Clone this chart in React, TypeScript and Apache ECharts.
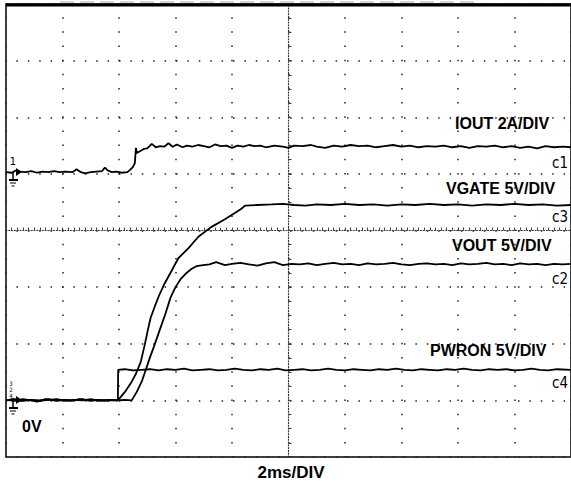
import React, { useEffect, useRef } from "react";
import * as echarts from "echarts";

// time in ms (2 ms/div), vertical position in screen divisions (0..8)
const iout: number[][] = [
  [0.0, 5.03], [0.2, 5.02], [0.35, 5.06], [0.5, 5.04], [0.7, 5.03], [0.9, 5.05], [1.1, 5.02], [1.3, 5.04],
  [1.5, 5.03], [1.7, 5.05], [1.9, 5.03], [2.1, 5.04], [2.35, 5.03], [2.5, 5.08], [2.65, 5.03], [2.8, 5.01],
  [3.0, 5.03], [3.2, 5.04], [3.4, 5.05], [3.5, 5.11], [3.6, 5.06], [3.75, 5.03], [3.9, 5.04], [4.1, 5.02],
  [4.3, 5.03], [4.39, 5.07], [4.49, 5.12], [4.56, 5.19], [4.6, 5.46], [4.63, 5.37], [4.74, 5.40], [4.88, 5.44],
  [5.0, 5.45], [5.16, 5.53], [5.3, 5.47], [5.45, 5.49], [5.6, 5.48], [5.75, 5.54], [5.9, 5.48], [6.05, 5.52],
  [6.25, 5.47], [6.4, 5.50], [6.6, 5.48], [6.8, 5.51], [7.0, 5.49], [7.2, 5.47], [7.4, 5.52], [7.6, 5.49],
  [7.8, 5.50], [8.0, 5.46], [8.2, 5.50], [8.4, 5.48], [8.6, 5.51], [8.8, 5.49], [9.0, 5.50], [9.2, 5.47],
  [9.5, 5.50], [9.8, 5.48], [10.0, 5.46], [10.2, 5.50], [10.5, 5.49], [10.8, 5.51], [11.0, 5.48], [11.3, 5.46],
  [11.6, 5.50], [11.9, 5.48], [12.2, 5.51], [12.5, 5.49], [12.8, 5.50], [13.1, 5.47], [13.4, 5.49], [13.7, 5.51],
  [14.0, 5.48], [14.3, 5.50], [14.6, 5.47], [14.9, 5.49], [15.2, 5.48], [15.5, 5.50], [15.8, 5.47], [16.1, 5.49],
  [16.4, 5.46], [16.7, 5.49], [17.0, 5.48], [17.3, 5.50], [17.6, 5.47], [17.9, 5.49], [18.2, 5.46], [18.5, 5.48],
  [18.8, 5.45], [19.1, 5.49], [19.4, 5.47], [19.7, 5.48], [20.0, 5.47],
];

const vgate: number[][] = [
  [0.0, 1.0], [0.25, 1.02], [0.5, 0.99], [0.8, 1.01], [1.1, 0.98], [1.4, 1.02], [1.7, 1.0], [2.0, 1.01],
  [2.3, 0.99], [2.6, 1.02], [2.9, 1.0], [3.2, 1.01], [3.5, 0.99], [3.8, 1.01], [3.96, 1.0],
  [4.21, 1.15], [4.45, 1.33], [4.6, 1.47], [4.77, 1.68], [4.91, 1.98], [5.02, 2.24], [5.12, 2.46], [5.26, 2.65],
  [5.4, 2.83], [5.61, 3.06], [5.82, 3.25], [6.1, 3.51], [6.46, 3.69], [6.81, 3.89], [7.26, 4.06], [7.75, 4.2],
  [8.1, 4.31], [8.32, 4.38], [8.46, 4.44], [8.9, 4.45], [9.4, 4.46], [9.8, 4.47], [10.2, 4.45], [10.6, 4.44],
  [11.0, 4.46], [11.5, 4.45], [12.0, 4.47], [12.5, 4.45], [13.0, 4.46], [13.5, 4.44], [14.0, 4.46], [14.5, 4.45],
  [15.0, 4.47], [15.5, 4.45], [16.0, 4.46], [16.5, 4.44], [17.0, 4.46], [17.5, 4.45], [18.0, 4.47], [18.5, 4.45],
  [19.0, 4.46], [19.5, 4.44], [20.0, 4.45],
];

const vout: number[][] = [
  [0.0, 1.01], [0.3, 0.99], [0.6, 1.02], [0.9, 1.0], [1.2, 0.99], [1.5, 1.01], [1.8, 1.02], [2.1, 0.99],
  [2.4, 1.01], [2.7, 1.0], [3.0, 1.02], [3.3, 0.99], [3.6, 1.01], [3.9, 1.0], [4.2, 1.01], [4.45, 1.0],
  [4.63, 1.15], [4.81, 1.34], [4.95, 1.54], [5.09, 1.75], [5.23, 1.94], [5.44, 2.24], [5.65, 2.54], [5.82, 2.81],
  [6.0, 3.0], [6.18, 3.14], [6.39, 3.25], [6.56, 3.32], [6.74, 3.37], [6.98, 3.39], [7.2, 3.40], [7.44, 3.44],
  [7.75, 3.39], [8.0, 3.41], [8.3, 3.43], [8.6, 3.40], [8.9, 3.38], [9.2, 3.42], [9.5, 3.44], [9.8, 3.39],
  [10.1, 3.41], [10.4, 3.40], [10.7, 3.42], [11.0, 3.39], [11.3, 3.41], [11.6, 3.43], [11.9, 3.40], [12.2, 3.41],
  [12.5, 3.39], [12.8, 3.42], [13.1, 3.40], [13.4, 3.41], [13.7, 3.43], [14.0, 3.40], [14.3, 3.39], [14.6, 3.41],
  [14.9, 3.42], [15.2, 3.40], [15.5, 3.41], [15.8, 3.39], [16.1, 3.42], [16.4, 3.40], [16.7, 3.41], [17.0, 3.43],
  [17.3, 3.40], [17.6, 3.41], [17.9, 3.39], [18.2, 3.42], [18.5, 3.40], [18.8, 3.41], [19.1, 3.39], [19.4, 3.41],
  [19.7, 3.40], [20.0, 3.41],
];

const pwron: number[][] = [
  [0.0, 1.0], [0.3, 1.02], [0.6, 0.99], [0.9, 1.01], [1.2, 1.0], [1.5, 1.02], [1.8, 0.99], [2.1, 1.01],
  [2.4, 1.0], [2.7, 1.02], [3.0, 0.99], [3.3, 1.01], [3.6, 1.0], [3.96, 1.0], [3.97, 1.54], [4.2, 1.55],
  [4.5, 1.53], [4.8, 1.54], [5.1, 1.55], [5.4, 1.53], [5.7, 1.55], [6.0, 1.54], [6.3, 1.56], [6.6, 1.53],
  [6.9, 1.54], [7.2, 1.55], [7.5, 1.53], [7.8, 1.54], [8.1, 1.56], [8.4, 1.54], [8.7, 1.53], [9.0, 1.55],
  [9.3, 1.54], [9.6, 1.56], [9.9, 1.53], [10.2, 1.54], [10.5, 1.55], [10.8, 1.53], [11.1, 1.54], [11.4, 1.56],
  [11.7, 1.54], [12.0, 1.53], [12.3, 1.55], [12.6, 1.54], [12.9, 1.53], [13.2, 1.55], [13.5, 1.54], [13.8, 1.56],
  [14.1, 1.54], [14.4, 1.53], [14.7, 1.55], [15.0, 1.54], [15.3, 1.53], [15.6, 1.55], [15.9, 1.54], [16.2, 1.56],
  [16.5, 1.54], [16.8, 1.53], [17.1, 1.55], [17.4, 1.54], [17.7, 1.55], [18.0, 1.53], [18.3, 1.54], [18.6, 1.56],
  [18.9, 1.54], [19.2, 1.53], [19.5, 1.55], [20.0, 1.54],
];

const traceNames = ["c1", "c3", "c2", "c4"];
const traceTitles = ["IOUT 2A/DIV", "VGATE 5V/DIV", "VOUT 5V/DIV", "PWRON 5V/DIV"];
const timeBase = "2ms/DIV";
const groundLabel = "0V";

export default function App() {
  const ref = useRef<HTMLDivElement>(null);
  useEffect(() => {
    if (!ref.current) return;
    const chart = echarts.init(ref.current, undefined, { renderer: "svg" });
    const boldFont = { fontFamily: "Liberation Sans, Arial, sans-serif", fontWeight: "bold" as const, fill: "#000" };
    const scopeFont = { fontFamily: "Liberation Sans Narrow, DejaVu Sans Condensed, sans-serif", fontWeight: "normal" as const, fill: "#000" };
    const series = [iout, vgate, vout, pwron].map((d, i) => ({
      type: "line",
      name: traceNames[i],
      data: d,
      xAxisIndex: 0,
      yAxisIndex: 0,
      showSymbol: false,
      symbol: "none",
      lineStyle: { color: "#000", width: 1.8 },
      z: 5,
    }));
    const groundSym = (x: number, y: number) => [
      { type: "line", shape: { x1: x, y1: y, x2: x, y2: y + 8 }, style: { stroke: "#000", lineWidth: 1.5 } },
      { type: "line", shape: { x1: x - 4, y1: y + 8, x2: x + 5, y2: y + 8 }, style: { stroke: "#000", lineWidth: 2 } },
      { type: "line", shape: { x1: x - 3, y1: y + 11, x2: x + 3, y2: y + 11 }, style: { stroke: "#000", lineWidth: 1 } },
      { type: "line", shape: { x1: x - 1.5, y1: y + 14, x2: x + 1.5, y2: y + 14 }, style: { stroke: "#000", lineWidth: 1 } },
      { type: "polygon", shape: { points: [[x + 3, y - 4], [x + 9, y], [x + 3, y + 4]] }, style: { fill: "#000" } },
    ];
    chart.setOption({
      animation: false,
      backgroundColor: "#fff",
      grid: [
        { left: 6, top: 4, width: 570, height: 453, show: true, borderColor: "#000", borderWidth: 1.5, backgroundColor: "transparent" },
        { left: 6, top: 4, width: 570, height: 453 },
      ],
      xAxis: [
        {
          gridIndex: 0, type: "value", min: 0, max: 20, interval: 2,
          axisLine: { show: false }, axisTick: { show: false }, axisLabel: { show: false },
          splitLine: { show: true, lineStyle: { color: "#222", width: 1.5, type: [1.5, 12.66], dashOffset: 0.75 } },
        },
        {
          gridIndex: 1, type: "value", min: -10, max: 10, interval: 1,
          axisLine: { show: true, onZero: true, lineStyle: { color: "#333", width: 1.2, type: [1, 1.8] } },
          axisTick: { show: true, inside: true, length: 3, lineStyle: { color: "#444", width: 1 } },
          minorTick: { show: true, splitNumber: 5, length: 3, lineStyle: { color: "#444", width: 1 } },
          axisLabel: { show: false }, splitLine: { show: false },
        },
      ],
      yAxis: [
        {
          gridIndex: 0, type: "value", min: 0, max: 8, interval: 1,
          axisLine: { show: false }, axisTick: { show: false }, axisLabel: { show: false },
          splitLine: { show: true, lineStyle: { color: "#222", width: 1.5, type: [1.5, 9.9], dashOffset: 0.75 } },
        },
        {
          gridIndex: 1, type: "value", min: -4, max: 4, interval: 1,
          axisLine: { show: true, onZero: true, lineStyle: { color: "#333", width: 1.2, type: [1, 1.8] } },
          axisTick: { show: true, inside: true, length: 3, lineStyle: { color: "#444", width: 1 } },
          minorTick: { show: true, splitNumber: 4, length: 3, lineStyle: { color: "#444", width: 1 } },
          axisLabel: { show: false }, splitLine: { show: false },
        },
      ],
      series,
      graphic: [
        { type: "line", z: 10, shape: { x1: 6, y1: 5, x2: 571, y2: 5 }, style: { stroke: "#000", lineWidth: 3 } },
        { type: "line", z: 10, shape: { x1: 60, y1: 2, x2: 480, y2: 2 }, style: { stroke: "#aaa", lineWidth: 1, lineDash: [14, 6] } },
        { type: "text", z: 10, x: 455, y: 123, style: { ...boldFont, text: traceTitles[0], fontSize: 16, textAlign: "left", textVerticalAlign: "middle" } },
        { type: "text", z: 10, x: 446, y: 188, style: { ...boldFont, text: traceTitles[1], fontSize: 16, textAlign: "left", textVerticalAlign: "middle" } },
        { type: "text", z: 10, x: 452, y: 245, style: { ...boldFont, text: traceTitles[2], fontSize: 16, textAlign: "left", textVerticalAlign: "middle" } },
        { type: "text", z: 10, x: 430, y: 350, style: { ...boldFont, text: traceTitles[3], fontSize: 16, textAlign: "left", textVerticalAlign: "middle" } },
        { type: "text", z: 10, x: 568, y: 163, style: { ...scopeFont, text: traceNames[0], fontSize: 15, textAlign: "right", textVerticalAlign: "middle" } },
        { type: "text", z: 10, x: 568, y: 217, style: { ...scopeFont, text: traceNames[1], fontSize: 15, textAlign: "right", textVerticalAlign: "middle" } },
        { type: "text", z: 10, x: 568, y: 279, style: { ...scopeFont, text: traceNames[2], fontSize: 15, textAlign: "right", textVerticalAlign: "middle" } },
        { type: "text", z: 10, x: 568, y: 383, style: { ...scopeFont, text: traceNames[3], fontSize: 15, textAlign: "right", textVerticalAlign: "middle" } },
        { type: "text", z: 10, x: 291, y: 472, style: { ...boldFont, text: timeBase, fontSize: 17, textAlign: "center", textVerticalAlign: "middle" } },
        { type: "text", z: 10, x: 22, y: 426, style: { ...boldFont, text: groundLabel, fontSize: 16, textAlign: "left", textVerticalAlign: "middle" } },
        { type: "text", z: 10, x: 13, y: 161, style: { ...scopeFont, text: "1", fontSize: 11, textAlign: "center", textVerticalAlign: "middle" } },
        { type: "text", z: 10, x: 11, y: 389, style: { ...scopeFont, text: "3\n2\n4", fontSize: 6, lineHeight: 6, textAlign: "center", textVerticalAlign: "middle" } },
        ...groundSym(13, 172).map((g) => ({ ...g, z: 10 })),
        ...groundSym(13, 400).map((g) => ({ ...g, z: 10 })),
      ],
    });
    return () => chart.dispose();
  }, []);
  return (
    <div
      ref={ref}
      style={{ position: "fixed", left: 0, top: 0, width: 571, height: 487, background: "#fff" }}
    />
  );
}
